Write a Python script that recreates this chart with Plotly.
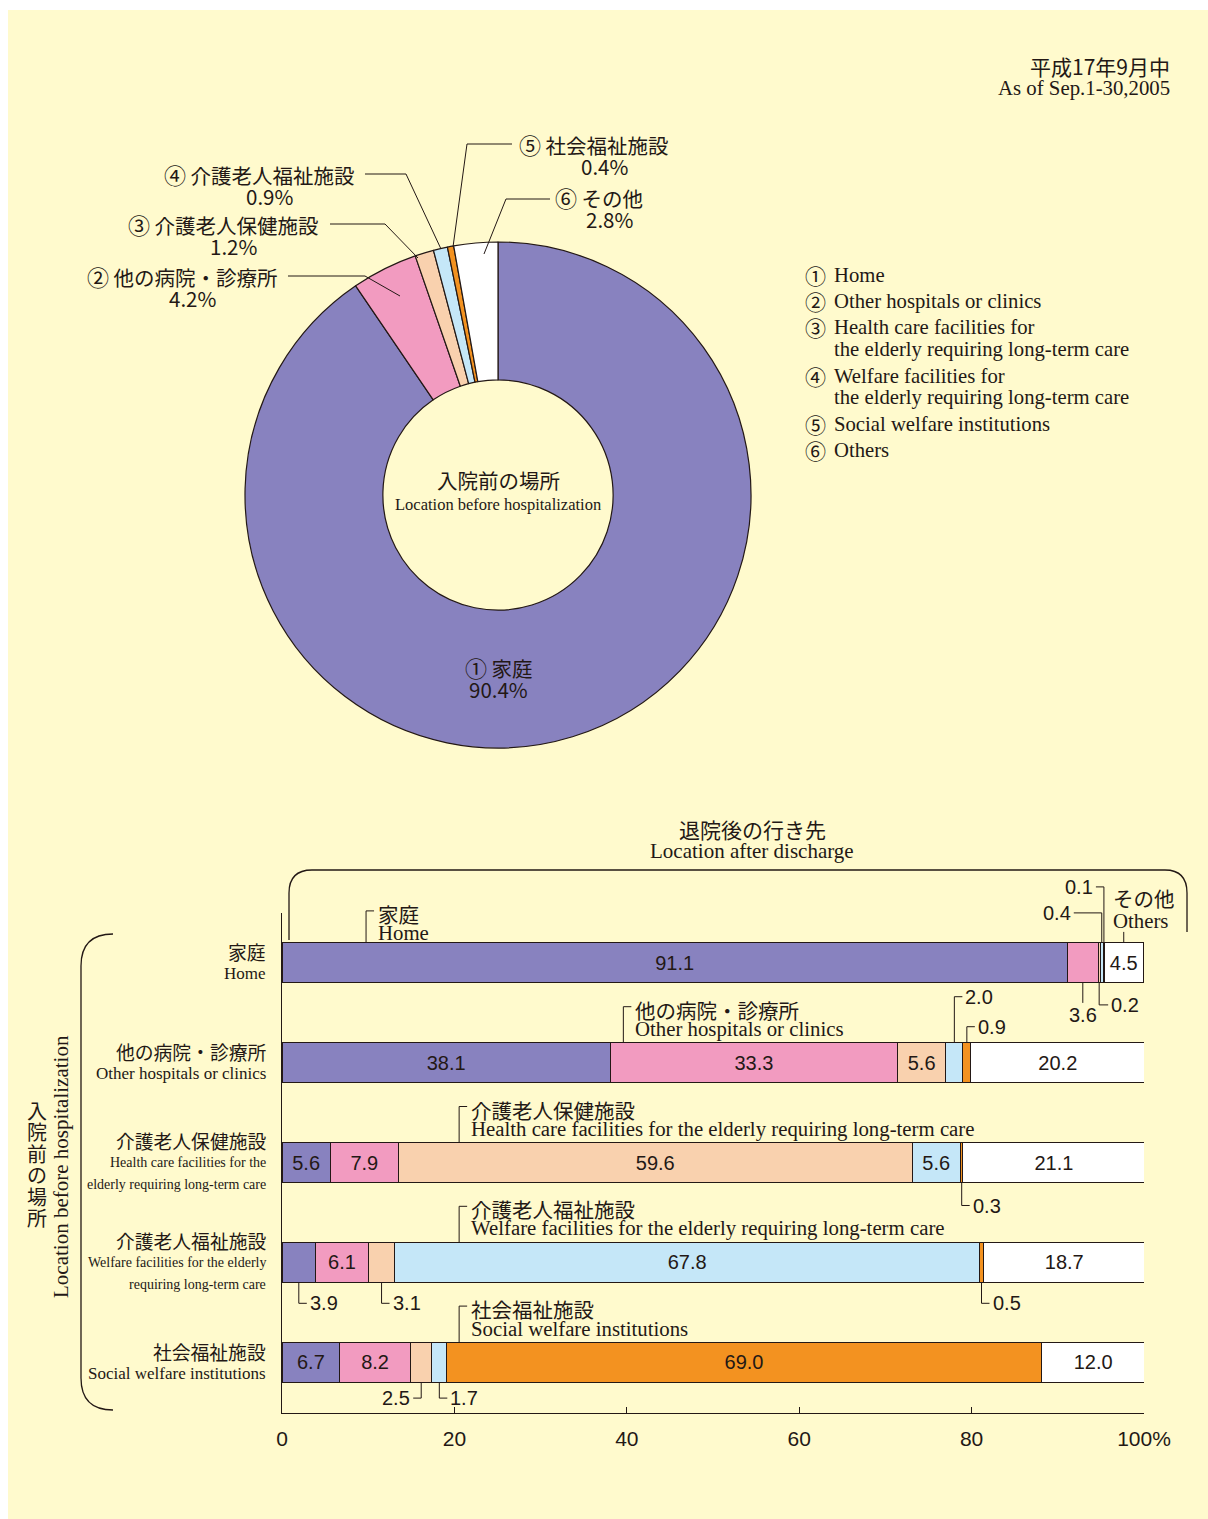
import plotly.graph_objects as go

W, H = 1208, 1519
INK = "#231815"
BG = "#fffacd"
JP = "Noto Sans CJK JP"
SANS = "Liberation Sans"
SERIF = "Liberation Serif"

# 入院前の場所 (pie, %)
pie_labels = ["家庭", "他の病院・診療所", "介護老人保健施設", "介護老人福祉施設", "社会福祉施設", "その他"]
pie_marks = ["①", "②", "③", "④", "⑤", "⑥"]
pie_values = [90.4, 4.2, 1.2, 0.9, 0.4, 2.8]
colors = ["#8882bf", "#f29bc0", "#f9d1ae", "#c5e7f8", "#f39220", "#ffffff"]

legend_en = ["Home", "Other hospitals or clinics",
             "Health care facilities for\nthe elderly requiring long-term care",
             "Welfare facilities for\nthe elderly requiring long-term care",
             "Social welfare institutions", "Others"]

# 退院後の行き先 by 入院前の場所 (stacked bars, %)
rows_jp = pie_labels[:5]
rows_en = ["Home", "Other hospitals or clinics",
           "Health care facilities for the\nelderly requiring long-term care",
           "Welfare facilities for the elderly\nrequiring long-term care",
           "Social welfare institutions"]
dest_home = [91.1, 38.1, 5.6, 3.9, 6.7]
dest_hosp = [3.6, 33.3, 7.9, 6.1, 8.2]
dest_health = [0.2, 5.6, 59.6, 3.1, 2.5]
dest_welfare = [0.4, 2.0, 5.6, 67.8, 1.7]
dest_social = [0.1, 0.9, 0.3, 0.5, 69.0]
dest_others = [4.5, 20.2, 21.1, 18.7, 12.0]
dests = [dest_home, dest_hosp, dest_health, dest_welfare, dest_social, dest_others]
x_ticks = [0, 20, 40, 60, 80, 100]
x_ticktext = ["0", "20", "40", "60", "80", "100%"]

fig = go.Figure()


def px2x(x):
    return x / W


def px2y(y):
    return 1 - y / H


def text(x, y, s, size=20.5, family=JP, anchor="center", angle=0):
    fig.add_annotation(x=px2x(x), y=px2y(y), xref="paper", yref="paper", text=s,
                       showarrow=False, xanchor=anchor, yanchor="middle", textangle=angle,
                       font=dict(family=family, size=size, color=INK))


def poly(pts, width=1):
    d = "M " + " L ".join(f"{px2x(x):.5f},{px2y(y):.5f}" for x, y in pts)
    fig.add_shape(type="path", path=d, xref="paper", yref="paper",
                  line=dict(color=INK, width=width))


def mark(m, size=22):
    return f'<span style="font-size:{size}px">{m}</span>'


# background panel
fig.add_shape(type="rect", xref="paper", yref="paper", x0=px2x(8), x1=1, y0=0, y1=px2y(10),
              fillcolor=BG, line_width=0, layer="below")

# ---- pie ----
fig.add_trace(go.Pie(
    labels=pie_labels, values=pie_values, sort=False, direction="clockwise", rotation=0,
    hole=0.455, textinfo="none", showlegend=False,
    marker=dict(colors=colors, line=dict(color=INK, width=1.2)),
    domain=dict(x=[px2x(245), px2x(751)], y=[px2y(748), px2y(242)]),
))

pie_callouts = [  # slice, label centre, leader line
    (1, 182, 276, [(288, 276), (365, 276), (400, 296)]),
    (2, 223, 224, [(330, 224), (385, 224), (418, 258)]),
    (3, 259, 174, [(365, 174), (406, 174), (441, 249)]),
    (4, 594, 144, [(512, 144), (467, 144), (453, 247)]),
    (5, 599, 197, [(550, 199), (506, 199), (484, 254)]),
]
for i, cx, cy, pts in pie_callouts:
    text(cx, cy, f"{mark(pie_marks[i])} {pie_labels[i]}")
    text(cx + 10, cy + 22, f"{pie_values[i]}%")
    poly(pts)
text(499, 667, f"{mark(pie_marks[0])} {pie_labels[0]}")
text(499, 689, f"{pie_values[0]}%")

text(498, 480, "入院前の場所", size=20.5)
text(498, 504, "Location before hospitalization", size=16.5, family=SERIF)

text(1172, 66, "平成17年9月中", size=21, anchor="right")
text(1172, 88, "As of Sep.1-30,2005", size=20.8, family=SERIF, anchor="right")

# legend
ly = 275
for m, en in zip(pie_marks, legend_en):
    lines = en.split("\n")
    text(815, ly, m, size=21)
    for k, ln in enumerate(lines):
        text(832, ly, ln, size=20.7, family=SERIF, anchor="left")
        ly += 22.5 if k < len(lines) - 1 else 26

# ---- stacked bars ----
for d, vals in enumerate(dests):
    fig.add_trace(go.Bar(
        y=rows_jp, x=vals, orientation="h", width=0.4, name=pie_labels[d],
        marker=dict(color=colors[d], line=dict(color=INK, width=1)),
        text=[f"{v:.1f}" if v >= 4.5 else "" for v in vals],
        textposition="inside", insidetextanchor="middle", textangle=0,
        textfont=dict(family=SANS, size=20, color=INK), showlegend=False,
    ))

X0, X1, YT, YB = 282, 1144, 913, 1413
Y_RANGE = [4.51, -0.5]
PXX = (X1 - X0) / (x_ticks[-1] - x_ticks[0])
PXY = (YB - YT) / (Y_RANGE[0] - Y_RANGE[1])

fig.update_layout(
    barmode="stack", width=W, height=H, autosize=False, showlegend=False,
    margin=dict(l=0, r=0, t=0, b=0, autoexpand=False),
    paper_bgcolor="white", plot_bgcolor=BG,
    xaxis=dict(domain=[px2x(X0), px2x(X1)], range=[0, 100], tickvals=x_ticks,
               ticktext=x_ticktext, ticks="inside", ticklen=6, tickcolor=INK,
               showline=True, linecolor=INK, linewidth=1, showgrid=False, zeroline=False,
               tickfont=dict(family=SANS, size=21, color=INK), ticklabelstandoff=7,
               automargin=False),
    yaxis=dict(domain=[px2y(YB), px2y(YT)], range=Y_RANGE, showline=True, linecolor=INK,
               linewidth=1, showticklabels=False, ticks="", showgrid=False, zeroline=False,
               automargin=False),
)


# same mapping as the bar axes, in page pixels
def bx(v):
    return X0 + (v - x_ticks[0]) * PXX


def by(r):
    return YT + (r - Y_RANGE[1]) * PXY


def seg_mid(row, dest):
    start = sum(dests[k][row] for k in range(dest))
    return bx(start + dests[dest][row] / 2)


HALF = 20  # half bar thickness, px

# small-value callouts: (row, dest, side, reach px, run px)
callouts = [
    (0, 1, "below", 20, 0), (0, 2, "below", 22, 9), (0, 3, "above", 30, -28),
    (0, 4, "above", 56, -8), (1, 3, "above", 46, 8), (1, 4, "above", 16, 8),
    (2, 4, "below", 23, 8), (3, 0, "below", 21, 8), (3, 2, "below", 21, 8),
    (3, 4, "below", 21, 8), (4, 2, "below", 16, -8), (4, 3, "below", 16, 8),
]
for row, dest, side, reach, run in callouts:
    xm = seg_mid(row, dest)
    sgn = 1 if side == "below" else -1
    edge = by(row) + sgn * HALF
    ye = edge + sgn * reach
    xe = xm + run
    poly([(xm, edge), (xm, ye), (xe, ye)])
    label = f"{dests[dest][row]:.1f}"
    if run == 0:
        text(xm, ye + sgn * 12, label, family=SANS, size=20)
    elif run > 0:
        text(xe + 1, ye, label, family=SANS, size=20, anchor="left")
    else:
        text(xe - 1, ye, label, family=SANS, size=20, anchor="right")

# destination names above bars: (row, x value, reach px)
dest_tags = [(0, 9.75, 32), (1, 39.6, 36), (2, 20.55, 36), (3, 20.55, 36), (4, 20.55, 36)]
for row, xv, reach in dest_tags:
    top = by(row) - HALF
    ye = top - reach
    x = bx(xv)
    poly([(x, top), (x, ye), (x + 8, ye)])
    text(x + 10, ye + 3, pie_labels[row], anchor="left")
    text(x + 10, ye + 22, legend_en[row].replace("\n", " "), size=20.8, family=SERIF,
         anchor="left")

# その他 / Others tag on the first row
xo = seg_mid(0, 5)
top0 = by(0) - HALF
poly([(xo, top0 - 11), (xo, top0)])
text(xo + 20, top0 - 45, pie_labels[5])
text(xo + 17, top0 - 22, legend_en[5], size=20.8, family=SERIF)

# row labels on the left
for row, (jp, en) in enumerate(zip(rows_jp, rows_en)):
    lines = en.split("\n")
    n = len(lines)
    text(X0 - 14, by(row) - n / 2 * 22, jp, anchor="right", size=18.8)
    for k, ln in enumerate(lines):
        text(X0 - 14, by(row) + (k + 1 - n / 2) * 22, ln, anchor="right",
             family=SERIF, size=17 if n == 1 else 14)

# header and braces
text(752, 829, "退院後の行き先", size=21)
text(752, 851, "Location after discharge", size=21, family=SERIF)


def P(x, y):
    return f"{px2x(x):.5f},{px2y(y):.5f}"


for d in (f"M {P(289, 940)} L {P(289, 893)} Q {P(289, 870)} {P(312, 870)} "
          f"L {P(1165, 870)} Q {P(1187, 870)} {P(1187, 893)} L {P(1187, 932)}",
          f"M {P(113, 934)} Q {P(81, 934)} {P(81, 966)} L {P(81, 1378)} "
          f"Q {P(81, 1410)} {P(113, 1410)}"):
    fig.add_shape(type="path", path=d, xref="paper", yref="paper",
                  line=dict(color=INK, width=1.3))

for k, ch in enumerate("入院前の場所"):
    text(37, 1110 + k * 21.5, ch, size=20)
text(61, 1167, "Location before hospitalization", size=21, family=SERIF, angle=-90)

fig.write_html(
    "out.html",
    config={"responsive": False, "displayModeBar": False},
    post_script="document.body.style.margin='0';document.body.style.overflow='hidden';",
)
